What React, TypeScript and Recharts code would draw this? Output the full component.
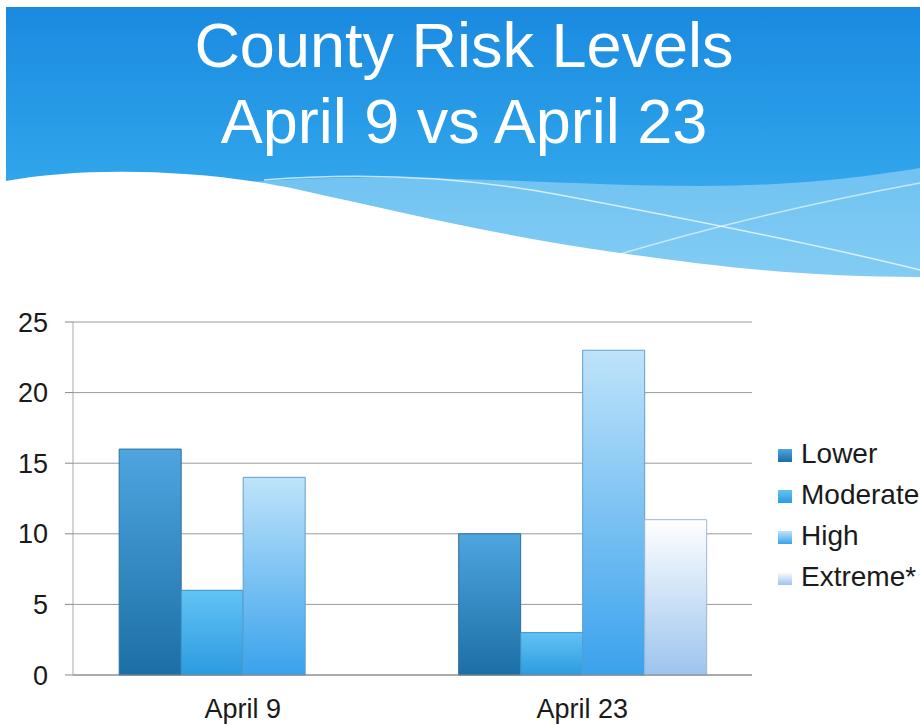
import { BarChart, Bar, XAxis, YAxis, CartesianGrid, Legend } from 'recharts';

const categories = ['April 9', 'April 23'];
const lower = [16, 10];
const moderate = [6, 3];
const high = [14, 23];
const extreme = [0, 11];
const seriesNames = ['Lower', 'Moderate', 'High', 'Extreme*'];
const yTicks = [0, 5, 10, 15, 20, 25];

const data = categories.map((name, i) => ({
  name,
  Lower: lower[i],
  Moderate: moderate[i],
  High: high[i],
  'Extreme*': extreme[i],
}));

// top / bottom colours of each bar gradient
const GRADS = [
  ['#4ea5df', '#1c6fa6'],
  ['#62c3f4', '#2c9bdf'],
  ['#bfe3fa', '#3aa2ec'],
  ['#ffffff', '#9cc4ee'],
];
const STROKES = ['#2f6f9c', '#3d8fc4', '#5d9fd0', '#9fb7d3'];

const FONT = '"Liberation Sans", Arial, sans-serif';

// legend kept in series order (recharts sorts the payload by name)
function LegendList() {
  return (
    <div style={{ fontFamily: FONT }}>
      {seriesNames.map((s, i) => (
        <div key={s} style={{ display: 'flex', alignItems: 'center', height: 41 }}>
          <span
            style={{
              display: 'inline-block',
              width: 14,
              height: 13,
              marginRight: 9,
              marginTop: 3,
              background: `linear-gradient(${GRADS[i][0]}, ${GRADS[i][1]})`,
            }}
          />
          <span style={{ fontSize: 28, color: '#1a1a1a', whiteSpace: 'nowrap' }}>{s}</span>
        </div>
      ))}
    </div>
  );
}

function Header() {
  return (
    <svg width={920} height={726} style={{ position: 'absolute', left: 0, top: 0 }}>
      <defs>
        <linearGradient id="sky" x1="0" y1="0" x2="0" y2="1">
          <stop offset="0%" stopColor="#1a8ae0" />
          <stop offset="55%" stopColor="#2ea3ea" />
          <stop offset="100%" stopColor="#5bbcf0" />
        </linearGradient>
      </defs>
      <rect x={6} y={7} width={914} height={290} fill="url(#sky)" />
      <path
        d="M 250 182 C 400 170, 560 186, 700 186 C 800 186, 870 176, 920 168 L 920 300 L 250 300 Z"
        fill="#a8dcf8"
        opacity={0.55}
      />
      <path
        d="M 6 181 C 80 167, 200 168, 300 190 S 500 236, 620 253 S 820 277, 920 277 L 920 320 L 6 320 Z"
        fill="#ffffff"
      />
      <path
        d="M 264 180 C 380 171, 480 180, 560 195 S 800 240, 920 270"
        fill="none"
        stroke="#ffffff"
        strokeOpacity={0.7}
        strokeWidth={1.5}
      />
      <path
        d="M 610 257 C 700 230, 800 205, 920 183"
        fill="none"
        stroke="#ffffff"
        strokeOpacity={0.6}
        strokeWidth={1.5}
      />
      <text x={464} y={67} textAnchor="middle" fill="#ffffff" fontSize={63} fontFamily={FONT}>
        County Risk Levels
      </text>
      <text x={464} y={143} textAnchor="middle" fill="#ffffff" fontSize={63} fontFamily={FONT}>
        April 9 vs April 23
      </text>
    </svg>
  );
}

export default function App() {
  return (
    <div
      style={{
        position: 'absolute',
        left: 0,
        top: 0,
        width: 920,
        height: 726,
        background: '#fff',
        overflow: 'hidden',
        fontFamily: FONT,
      }}
    >
      <Header />
      <div style={{ position: 'absolute', left: 0, top: 300 }}>
        <BarChart
          width={920}
          height={426}
          data={data}
          margin={{ top: 22, right: 168, left: 0, bottom: 0 }}
          barCategoryGap="13.6%"
          barGap={0}
        >
          <defs>
            {GRADS.map((g, i) => (
              <linearGradient key={i} id={`bar${i}`} x1="0" y1="0" x2="0" y2="1">
                <stop offset="0%" stopColor={g[0]} />
                <stop offset="100%" stopColor={g[1]} />
              </linearGradient>
            ))}
          </defs>
          <CartesianGrid vertical={false} stroke="#9a9a9a" />
          <XAxis
            dataKey="name"
            height={51}
            tickLine={false}
            tickSize={0}
            tickMargin={24}
            axisLine={{ stroke: '#888' }}
            tick={{ fill: '#1a1a1a', fontSize: 27, fontFamily: FONT }}
          />
          <YAxis
            width={73}
            domain={[0, 25]}
            ticks={yTicks}
            tickSize={8}
            tickMargin={17}
            axisLine={{ stroke: '#aaa' }}
            tickLine={{ stroke: '#888' }}
            tick={{ fill: '#1a1a1a', fontSize: 27, fontFamily: FONT }}
          />
          <Legend
            layout="horizontal"
            align="center"
            verticalAlign="middle"
            content={<LegendList />}
            wrapperStyle={{ left: 778, top: 133, width: 150, height: 'auto' }}
          />
          {seriesNames.map((s, i) => (
            <Bar
              key={s}
              dataKey={s}
              fill={`url(#bar${i})`}
              stroke={STROKES[i]}
              strokeWidth={1}
              isAnimationActive={false}
            />
          ))}
        </BarChart>
      </div>
    </div>
  );
}
